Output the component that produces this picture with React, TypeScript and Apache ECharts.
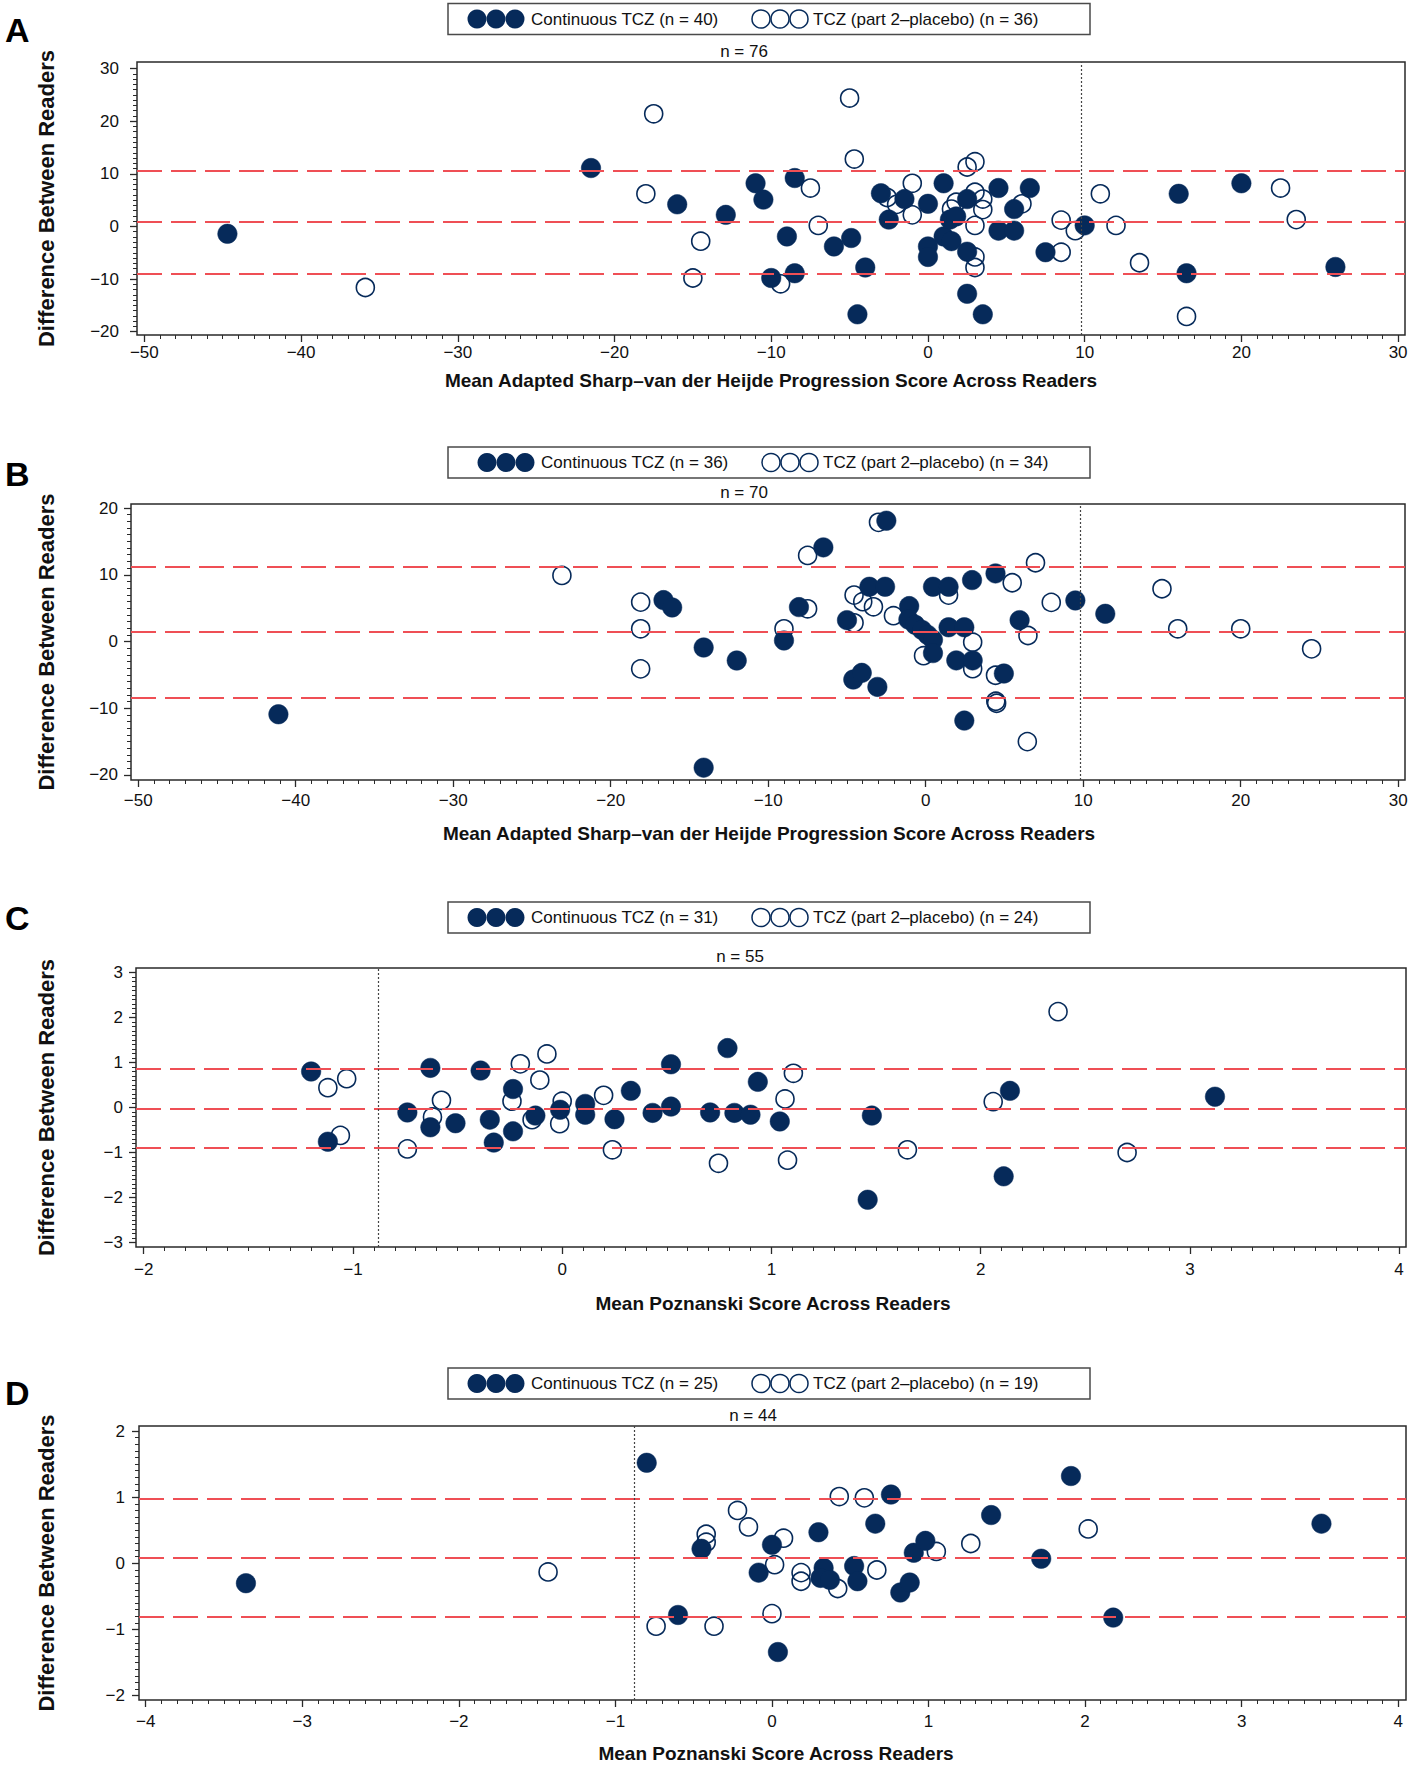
import React, { useEffect, useRef } from "react";
import * as echarts from "echarts";

const NAVY = "#062a5a";
const RED = "#ef4f55";
const FRAME = "#2a2a2a";
const FONT = '"Liberation Sans", Arial, Helvetica, sans-serif';

// ---------- Panel A ----------
const aContinuous: number[][] = [
  [-44.7, -1.4], [-21.5, 11.1], [-16.0, 4.2], [-12.9, 2.2], [-11.0, 8.2], [-10.5, 5.1],
  [-10.0, -9.8], [-9.0, -1.9], [-8.5, 9.2], [-8.5, -8.9], [-6.0, -3.8], [-4.9, -2.2],
  [-4.5, -16.7], [-4.0, -7.8], [-3.0, 6.3], [-2.5, 1.3], [-1.5, 5.2], [0.0, 4.3],
  [0.0, -3.8], [0.0, -5.8], [1.0, 8.2], [1.0, -1.9], [1.4, 1.3], [1.5, -2.8],
  [1.8, 1.9], [2.5, 5.2], [2.5, -4.8], [2.5, -12.8], [3.5, -16.7], [4.5, 7.3],
  [4.5, -0.8], [5.5, 3.3], [5.5, -0.8], [6.5, 7.3], [7.5, -4.9], [10.0, 0.2],
  [16.0, 6.2], [16.5, -8.9], [20.0, 8.2], [26.0, -7.7],
];
const aPlacebo: number[][] = [
  [-35.9, -11.6], [-18.0, 6.2], [-17.5, 21.4], [-15.0, -9.8], [-14.5, -2.8], [-9.4, -10.9],
  [-7.5, 7.3], [-7.0, 0.2], [-5.0, 24.4], [-4.7, 12.8], [-2.6, 5.5], [-2.0, 4.2],
  [-1.0, 8.2], [-1.0, 2.2], [1.5, 3.3], [1.8, 4.6], [2.5, 11.3], [3.0, 12.3],
  [3.0, 6.5], [3.5, 5.2], [3.5, 3.2], [3.0, 0.2], [3.0, -5.8], [3.0, -7.8],
  [6.0, 4.3], [8.5, 1.2], [8.5, -4.9], [9.4, -0.8], [11.0, 6.2], [12.0, 0.2],
  [13.5, -6.9], [16.5, -17.1], [22.5, 7.3], [23.5, 1.3],
];
const aLimits = [10.6, 0.8, -9.0];
const aCutoff = 9.8;
const aLegend = ["Continuous TCZ (n = 40)", "TCZ (part 2\u2013placebo) (n = 36)"];
const aN = "n = 76";

// ---------- Panel B ----------
const bContinuous: number[][] = [
  [-41.1, -10.9], [-16.65, 6.2], [-16.1, 5.1], [-14.1, -0.9], [-14.1, -18.9], [-12.0, -2.85],
  [-9.0, 0.15], [-8.05, 5.15], [-6.5, 14.1], [-5.0, 3.2], [-4.6, -5.7], [-4.06, -4.7],
  [-3.58, 8.2], [-3.07, -6.8], [-2.58, 8.2], [-2.5, 18.1], [-1.05, 5.3], [-1.1, 3.3],
  [-0.67, 2.5], [-0.24, 1.74], [0.12, 1.0], [0.46, 0.25], [0.46, -1.74], [0.46, 8.2],
  [1.45, 8.2], [1.45, 2.13], [2.45, 2.13], [1.94, -2.83], [2.98, -2.83], [2.94, 9.2],
  [4.43, 10.2], [2.45, -11.85], [4.96, -4.8], [5.96, 3.2], [9.5, 6.15], [11.4, 4.15],
];
const bPlacebo: number[][] = [
  [-23.1, 9.9], [-18.1, 5.9], [-18.1, 1.9], [-18.1, -4.1], [-9.0, 1.9], [-7.5, 4.9],
  [-7.5, 12.9], [-4.55, 6.95], [-4.0, 5.96], [-3.32, 5.2], [-3.0, 17.85], [-2.05, 3.87],
  [-4.55, 2.8], [-0.14, -2.13], [1.45, 6.95], [2.98, -0.1], [2.98, -4.07], [4.43, -5.06],
  [4.45, -8.95], [4.5, -9.25], [5.49, 8.8], [6.97, 11.8], [6.49, 0.9], [6.45, -15.0],
  [7.97, 5.86], [15.0, 7.9], [16.0, 1.9], [20.0, 1.9], [24.5, -1.1],
];
const bLimits = [11.15, 1.4, -8.4];
const bCutoff = 9.8;
const bLegend = ["Continuous TCZ (n = 36)", "TCZ (part 2\u2013placebo) (n = 34)"];
const bN = "n = 70";

// ---------- Panel C ----------
const cContinuous: number[][] = [
  [-1.2, 0.8], [-1.12, -0.76], [-0.74, -0.11], [-0.63, 0.88], [-0.63, -0.44], [-0.51, -0.35],
  [-0.39, 0.82], [-0.346, -0.27], [-0.327, -0.78], [-0.235, 0.41], [-0.235, -0.53], [-0.128, -0.18],
  [-0.01, -0.05], [0.11, 0.08], [0.11, -0.16], [0.25, -0.26], [0.328, 0.37], [0.432, -0.12],
  [0.52, 0.96], [0.52, 0.02], [0.707, -0.11], [0.79, 1.32], [0.823, -0.12], [0.9, -0.16],
  [0.935, 0.57], [1.04, -0.31], [1.48, -0.18], [1.46, -2.05], [2.14, 0.37], [2.11, -1.53],
  [3.12, 0.24],
];
const cPlacebo: number[][] = [
  [-1.12, 0.44], [-1.03, 0.64], [-1.06, -0.62], [-0.74, -0.92], [-0.62, -0.21], [-0.577, 0.16],
  [-0.2, 0.97], [-0.24, 0.14], [-0.144, -0.27], [-0.107, 0.61], [-0.073, 1.19], [-0.012, -0.36],
  [0.0, 0.14], [0.198, 0.27], [0.24, -0.94], [0.747, -1.24], [1.065, 0.19], [1.105, 0.76],
  [1.077, -1.17], [1.65, -0.94], [2.06, 0.13], [2.37, 2.13], [2.7, -1.0],
];
const cLimits = [0.86, -0.03, -0.9];
const cCutoff = -0.88;
const cLegend = ["Continuous TCZ (n = 31)", "TCZ (part 2\u2013placebo) (n = 24)"];
const cN = "n = 55";

// ---------- Panel D ----------
const dContinuous: number[][] = [
  [-3.36, -0.3], [-0.8, 1.52], [-0.6, -0.78], [-0.45, 0.22], [-0.085, -0.14], [0.0, 0.28],
  [0.038, -1.34], [0.297, 0.47], [0.33, -0.07], [0.31, -0.22], [0.37, -0.25], [0.525, -0.04],
  [0.546, -0.27], [0.66, 0.6], [0.76, 1.04], [0.82, -0.44], [0.88, -0.29], [0.906, 0.16],
  [0.98, 0.34], [1.4, 0.73], [1.72, 0.07], [1.91, 1.32], [2.18, -0.82], [3.51, 0.6],
];
const dPlacebo: number[][] = [
  [-1.43, -0.13], [-0.74, -0.95], [-0.42, 0.44], [-0.42, 0.32], [-0.37, -0.95], [-0.22, 0.8],
  [-0.15, 0.55], [0.074, 0.38], [0.017, -0.02], [0.0, -0.76], [0.186, -0.14], [0.186, -0.27],
  [0.42, -0.38], [0.43, 1.01], [0.59, 0.99], [0.67, -0.1], [1.05, 0.18], [1.27, 0.3],
  [2.02, 0.52],
];
const dLimits = [0.97, 0.09, -0.8];
const dCutoff = -0.88;
const dLegend = ["Continuous TCZ (n = 25)", "TCZ (part 2\u2013placebo) (n = 19)"];
const dN = "n = 44";

// ---------- Axes ----------
const sharpXTicks = [-50, -40, -30, -20, -10, 0, 10, 20, 30];
const aYTicks = [-20, -10, 0, 10, 20, 30];
const bYTicks = [-20, -10, 0, 10, 20];
const cXTicks = [-2, -1, 0, 1, 2, 3, 4];
const cYTicks = [-3, -2, -1, 0, 1, 2, 3];
const dXTicks = [-4, -3, -2, -1, 0, 1, 2, 3, 4];
const dYTicks = [-2, -1, 0, 1, 2];

const sharpTitle = "Mean Adapted Sharp\u2013van der Heijde Progression Score Across Readers";
const poznTitle = "Mean Poznanski Score Across Readers";
const yTitle = "Difference Between Readers";

const panels = [
  {
    letter: "A", cont: aContinuous, plac: aPlacebo, limits: aLimits, cutoff: aCutoff,
    xTicks: sharpXTicks, yTicks: aYTicks, legend: aLegend, nText: aN, xTitle: sharpTitle,
    L: { left: 137, top: 62, width: 1268, height: 273, xMin: -50.47, xMax: 30.44, yMin: -20.63, yMax: 31.25,
      letterY: 29.5, legendTop: 3.5, legendShift: 0, nX: 744, nY: 51,
      xTitleX: 771, xTitleY: 380, xLM: 9, yLM: 18 },
  },
  {
    letter: "B", cont: bContinuous, plac: bPlacebo, limits: bLimits, cutoff: bCutoff,
    xTicks: sharpXTicks, yTicks: bYTicks, legend: bLegend, nText: bN, xTitle: sharpTitle,
    L: { left: 131, top: 504, width: 1274, height: 276, xMin: -50.46, xMax: 30.43, yMin: -20.75, yMax: 20.6,
      letterY: 473.5, legendTop: 447, legendShift: 10, nX: 744, nY: 492,
      xTitleX: 769, xTitleY: 833, xLM: 12, yLM: 13 },
  },
  {
    letter: "C", cont: cContinuous, plac: cPlacebo, limits: cLimits, cutoff: cCutoff,
    xTicks: cXTicks, yTicks: cYTicks, legend: cLegend, nText: cN, xTitle: poznTitle,
    L: { left: 136, top: 968, width: 1270, height: 279, xMin: -2.037, xMax: 4.033, yMin: -3.1, yMax: 3.1,
      letterY: 918, legendTop: 902, legendShift: 0, nX: 740, nY: 956,
      xTitleX: 773, xTitleY: 1303, xLM: 14, yLM: 13 },
  },
  {
    letter: "D", cont: dContinuous, plac: dPlacebo, limits: dLimits, cutoff: dCutoff,
    xTicks: dXTicks, yTicks: dYTicks, legend: dLegend, nText: dN, xTitle: poznTitle,
    L: { left: 139, top: 1426, width: 1267, height: 274, xMin: -4.043, xMax: 4.05, yMin: -2.065, yMax: 2.076,
      letterY: 1392.5, legendTop: 1368, legendShift: 0, nX: 753, nY: 1415,
      xTitleX: 776, xTitleY: 1753, xLM: 13, yLM: 14 },
  },
];

const fmt = (v: number) => (v < 0 ? "\u2212" + Math.abs(v) : String(Math.round(v * 1000) / 1000));

function buildOption() {
  const grid: any[] = [];
  const xAxis: any[] = [];
  const yAxis: any[] = [];
  const series: any[] = [];
  const graphic: any[] = [];

  panels.forEach((p, i) => {
    const L = p.L;
    const x0 = p.xTicks[0];
    const x1 = p.xTicks[p.xTicks.length - 1];
    const y0 = p.yTicks[0];
    const y1 = p.yTicks[p.yTicks.length - 1];
    const pxX = L.width / (L.xMax - L.xMin);
    const pxY = L.height / (L.yMax - L.yMin);
    const xStep = p.xTicks[1] - p.xTicks[0];
    const yStep = p.yTicks[1] - p.yTicks[0];

    // data grid (frame, padded ranges)
    grid.push({
      left: L.left, top: L.top, width: L.width, height: L.height,
      show: true, borderColor: FRAME, borderWidth: 1.5, backgroundColor: "#fff",
      containLabel: false, outerBoundsMode: "none",
    });
    // tick grid (exact tick range)
    const innerLeft = L.left + (x0 - L.xMin) * pxX;
    const innerTop = L.top + (L.yMax - y1) * pxY;
    grid.push({
      left: innerLeft, top: innerTop, width: (x1 - x0) * pxX, height: (y1 - y0) * pxY,
      show: false, containLabel: false, outerBoundsMode: "none",
    });
    const offX = (y0 - L.yMin) * pxY;
    const offY = (x0 - L.xMin) * pxX;

    xAxis.push({
      gridIndex: 2 * i, type: "value", min: L.xMin, max: L.xMax, show: false,
      axisLine: { onZero: false }, splitLine: { show: false },
    });
    xAxis.push({
      gridIndex: 2 * i + 1, type: "value", position: "bottom", min: x0, max: x1, interval: xStep, offset: offX,
      axisLine: { show: false, onZero: false },
      axisTick: { show: true, length: 7, lineStyle: { color: FRAME, width: 1.3 } },
      minorTick: { show: true, splitNumber: 10, length: 4, lineStyle: { color: FRAME, width: 1 } },
      axisLabel: { show: true, formatter: fmt, margin: L.xLM, fontSize: 17, fontFamily: FONT, color: "#111",
        showMinLabel: true, showMaxLabel: true, hideOverlap: false },
      splitLine: { show: false }, minorSplitLine: { show: false },
    });
    yAxis.push({
      gridIndex: 2 * i, type: "value", min: L.yMin, max: L.yMax, show: false,
      axisLine: { onZero: false }, splitLine: { show: false },
    });
    yAxis.push({
      gridIndex: 2 * i + 1, type: "value", position: "left", min: y0, max: y1, interval: yStep, offset: offY,
      axisLine: { show: false, onZero: false },
      axisTick: { show: true, length: 7, lineStyle: { color: FRAME, width: 1.3 } },
      minorTick: { show: true, splitNumber: 10, length: 4, lineStyle: { color: FRAME, width: 1 } },
      axisLabel: { show: true, formatter: fmt, margin: L.yLM, fontSize: 17, fontFamily: FONT, color: "#111",
        showMinLabel: true, showMaxLabel: true, hideOverlap: false },
      splitLine: { show: false }, minorSplitLine: { show: false },
    });

    const xi = 2 * i;
    const yi = 2 * i;
    series.push({
      type: "scatter", xAxisIndex: xi, yAxisIndex: yi, data: [], z: 1, silent: true,
      markLine: {
        silent: true, symbol: ["none", "none"], label: { show: false }, animation: false,
        lineStyle: { color: RED, width: 2, type: [25, 9], opacity: 1 },
        data: [
          ...p.limits.map((v) => ({ yAxis: v })),
          { xAxis: p.cutoff, lineStyle: { color: "#444", width: 1.2, type: [2, 2] } },
        ],
      },
    });
    series.push({
      type: "scatter", xAxisIndex: xi, yAxisIndex: yi, data: p.plac, z: 3,
      symbol: "circle", symbolSize: 18,
      itemStyle: { color: "rgba(255,255,255,0)", borderColor: NAVY, borderWidth: 1.6, opacity: 1 },
    });
    series.push({
      type: "scatter", xAxisIndex: xi, yAxisIndex: yi, data: p.cont, z: 4,
      symbol: "circle", symbolSize: 19.5,
      itemStyle: { color: NAVY, borderColor: NAVY, borderWidth: 0.5, opacity: 1 },
    });

    // panel letter
    graphic.push({
      type: "text", x: 5, y: L.letterY,
      style: { text: p.letter, fontSize: 34, fontWeight: "bold", fontFamily: FONT, fill: "#000", verticalAlign: "middle" },
    });
    // y title
    graphic.push({
      type: "text", x: 46, y: L.top + L.height / 2, rotation: Math.PI / 2,
      style: { text: yTitle, fontSize: 22, fontWeight: "bold", fontFamily: FONT, fill: "#111", align: "center", verticalAlign: "middle" },
    });
    // x title
    graphic.push({
      type: "text", x: L.xTitleX, y: L.xTitleY,
      style: { text: p.xTitle, fontSize: 19, fontWeight: "bold", fontFamily: FONT, fill: "#111", align: "center", verticalAlign: "middle" },
    });
    // n text
    graphic.push({
      type: "text", x: L.nX, y: L.nY,
      style: { text: p.nText, fontSize: 17, fontFamily: FONT, fill: "#111", align: "center", verticalAlign: "middle" },
    });
    // legend box
    const bx = 448;
    const by = L.legendTop;
    const cy = by + 15.5;
    const s = L.legendShift;
    graphic.push({
      type: "rect", shape: { x: bx, y: by, width: 642, height: 31 },
      style: { fill: "#fff", stroke: "#4a4a4a", lineWidth: 1.5 },
    });
    [29, 48, 67].forEach((dx) => {
      graphic.push({ type: "circle", shape: { cx: bx + dx + s, cy, r: 9.5 }, style: { fill: NAVY } });
    });
    graphic.push({
      type: "text", x: bx + 83 + s, y: cy,
      style: { text: p.legend[0], fontSize: 17, fontFamily: FONT, fill: "#111", verticalAlign: "middle" },
    });
    [313, 332, 351].forEach((dx) => {
      graphic.push({ type: "circle", shape: { cx: bx + dx + s, cy, r: 9 }, style: { fill: "none", stroke: NAVY, lineWidth: 1.5 } });
    });
    graphic.push({
      type: "text", x: bx + 365 + s, y: cy,
      style: { text: p.legend[1], fontSize: 17, fontFamily: FONT, fill: "#111", verticalAlign: "middle" },
    });
  });

  return {
    animation: false,
    backgroundColor: "#fff",
    textStyle: { fontFamily: FONT },
    grid, xAxis, yAxis, series, graphic,
  };
}

export default function App() {
  const ref = useRef<HTMLDivElement>(null);
  useEffect(() => {
    if (!ref.current) return;
    const chart = echarts.init(ref.current, undefined, { renderer: "svg" });
    chart.setOption(buildOption() as any);
    return () => chart.dispose();
  }, []);
  return (
    <div
      ref={ref}
      style={{ position: "absolute", left: 0, top: 0, width: 1418, height: 1765, background: "#fff" }}
    />
  );
}
